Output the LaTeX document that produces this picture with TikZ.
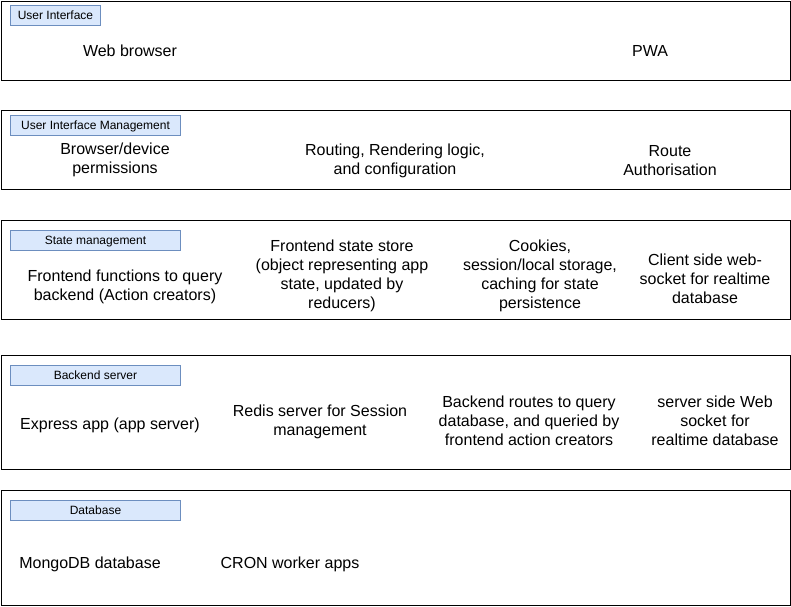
\documentclass[tikz,border=0pt]{standalone}
\usepackage{fontspec}
\setmainfont{Liberation Sans}
\definecolor{tagfill}{HTML}{DAE8FC}
\definecolor{tagline}{HTML}{6C8EBF}
\begin{document}
\begin{tikzpicture}[x=1pt,y=-1pt,
  layer/.style={draw=black,line width=1pt},
  tag/.style={draw=tagline,fill=tagfill,line width=1pt,inner sep=0pt,
    text height=8.6pt,text depth=0pt,
    anchor=north west,font=\fontsize{12}{14}\selectfont},
  item/.style={align=center,inner sep=0pt,yshift=-1.5pt,font=\fontsize{16}{19}\selectfont}]
\useasboundingbox[fill=white] (0,0) rectangle (791,606);

% layer frames
\draw[layer] (1,1) rectangle (790,80);
\draw[layer] (1,110) rectangle (790,189);
\draw[layer] (1,220) rectangle (790,319);
\draw[layer] (1,355) rectangle (790,469);
\draw[layer] (1,490) rectangle (790,605);

% layer titles
\node[tag,minimum width=90pt,minimum height=20pt] (t1) at (10,5) {User Interface};
\node[tag,minimum width=170pt,minimum height=20pt] (t2) at (10,115) {User Interface Management};
\node[tag,minimum width=170pt,minimum height=20pt] (t3) at (10,230) {State management};
\node[tag,minimum width=170pt,minimum height=20pt] (t4) at (10,365) {Backend server};
\node[tag,minimum width=170pt,minimum height=20pt] (t5) at (10,500) {Database};

% user interface
\node[item] (web) at (130,49) {Web browser};
\node[item] (pwa) at (650,49) {PWA};

% user interface management
\node[item] (perm) at (115,158) {Browser/device\\permissions};
\node[item] (rout) at (395,159) {Routing, Rendering logic,\\and configuration};
\node[item] (auth) at (670,159) {Route\\Authorisation};

% state management
\node[item] (func) at (125,285) {Frontend functions to query\\backend (Action creators)};
\node[item] (store) at (342,274) {Frontend state store\\(object representing app\\state, updated by\\reducers)};
\node[item] (cook) at (540,274) {Cookies,\\session/local storage,\\caching for state\\persistence};
\node[item] (csock) at (705,277) {Client side web-\\socket for realtime\\database};

% backend server
\node[item] (expr) at (110,424) {Express app (app server)};
\node[item] (redis) at (320,420) {Redis server for Session\\management};
\node[item] (broute) at (529,419) {Backend routes to query\\database, and queried by\\frontend action creators};
\node[item] (ssock) at (715,419) {server side Web\\socket for\\realtime database};

% database
\node[item] (mongo) at (90,563) {MongoDB database};
\node[item] (cron) at (290,563) {CRON worker apps};
\end{tikzpicture}
\end{document}
